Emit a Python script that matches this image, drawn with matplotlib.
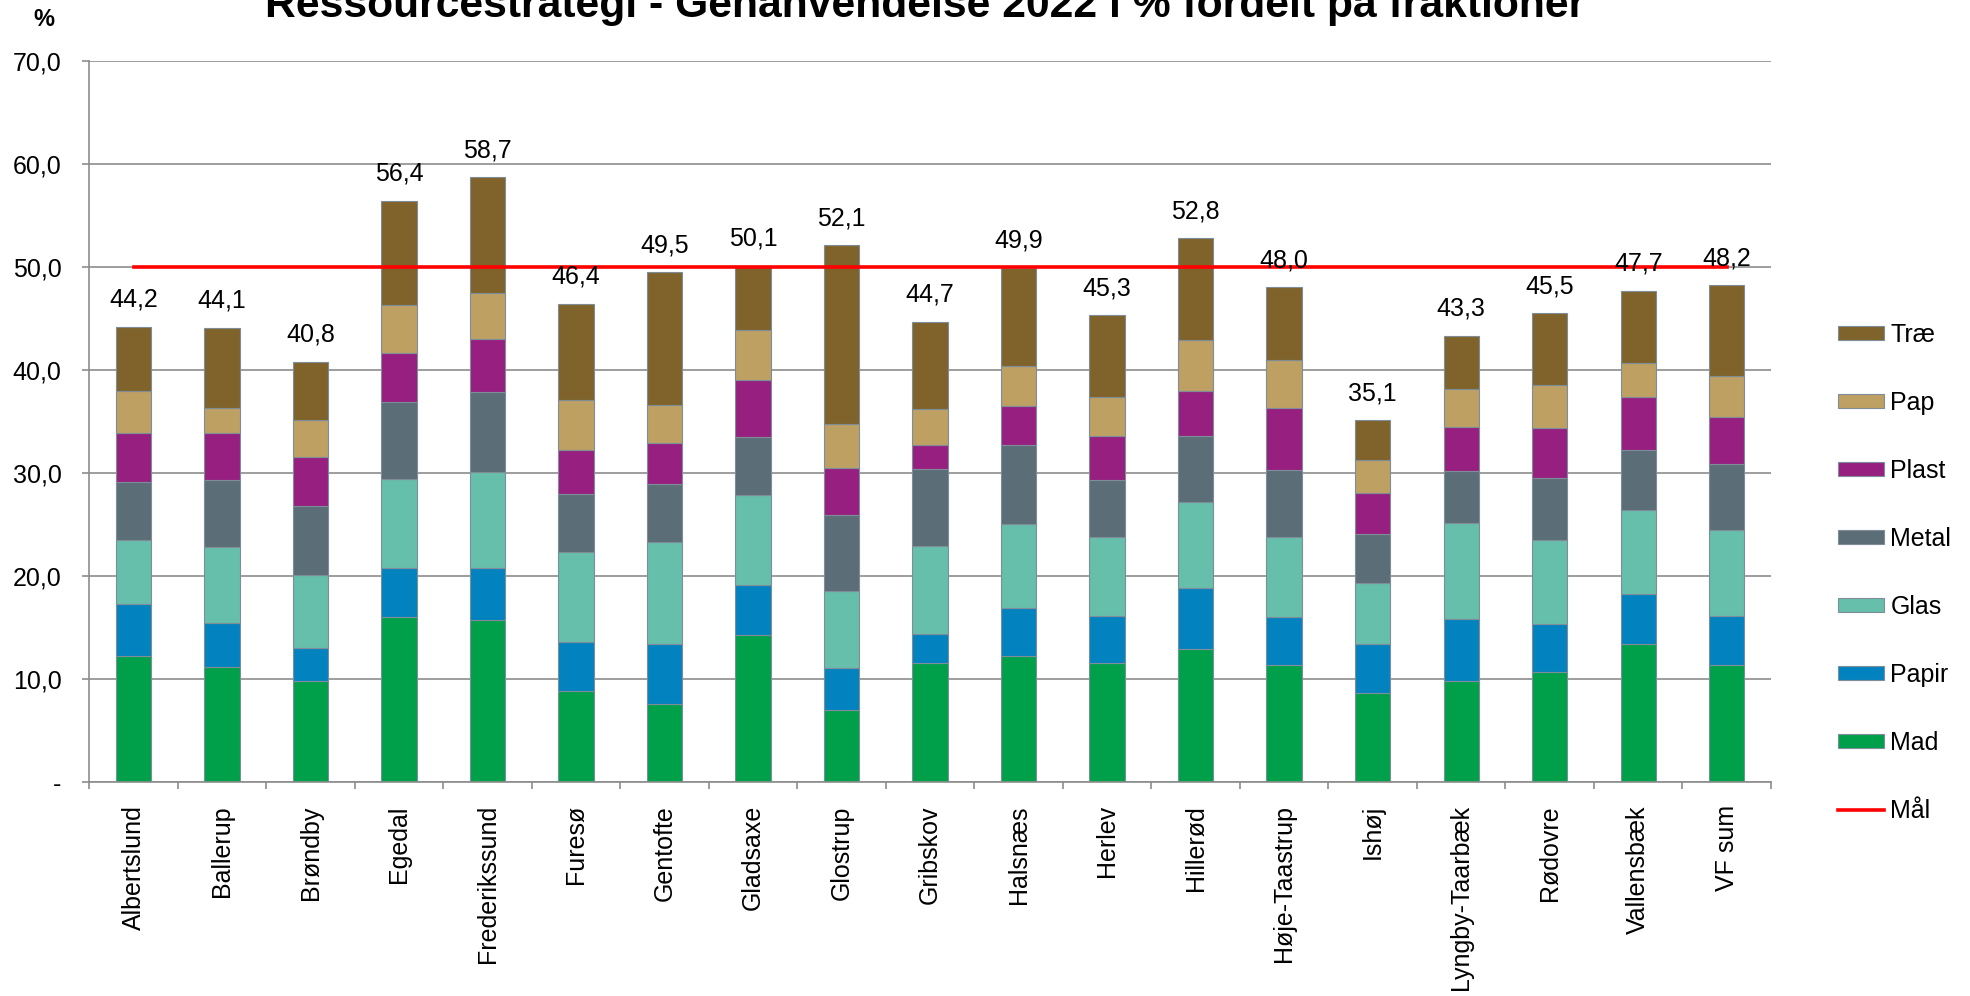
import matplotlib
matplotlib.use("Agg")
import matplotlib.pyplot as plt
from matplotlib.patches import Patch
from matplotlib.lines import Line2D
import numpy as np

plt.rcParams['font.family'] = ['Liberation Sans', 'DejaVu Sans']

categories = ["Albertslund", "Ballerup", "Brøndby", "Egedal", "Frederikssund", "Furesø",
              "Gentofte", "Gladsaxe", "Glostrup", "Gribskov", "Halsnæs", "Herlev",
              "Hillerød", "Høje-Taastrup", "Ishøj", "Lyngby-Taarbæk", "Rødovre",
              "Vallensbæk", "VF sum"]

mad   = [12.3, 11.2, 9.8, 16.0, 15.7, 8.9, 7.6, 14.3, 7.0, 11.6, 12.3, 11.6, 12.9, 11.4, 8.7, 9.8, 10.7, 13.4, 11.4]
papir = [5.0, 4.3, 3.2, 4.8, 5.1, 4.7, 5.8, 4.8, 4.1, 2.8, 4.6, 4.5, 5.9, 4.6, 4.7, 6.0, 4.7, 4.9, 4.7]
glas  = [6.2, 7.3, 7.1, 8.6, 9.3, 8.7, 9.9, 8.8, 7.5, 8.5, 8.2, 7.7, 8.4, 7.8, 5.9, 9.4, 8.1, 8.1, 8.4]
metal = [5.6, 6.5, 6.7, 7.5, 7.8, 5.7, 5.6, 5.6, 7.3, 7.5, 7.6, 5.5, 6.4, 6.5, 4.8, 5.0, 6.0, 5.8, 6.4]
plast = [4.8, 4.6, 4.8, 4.7, 5.1, 4.2, 4.0, 5.5, 4.6, 2.3, 3.8, 4.3, 4.4, 6.0, 4.0, 4.3, 4.9, 5.2, 4.5]
pap   = [4.1, 2.4, 3.5, 4.7, 4.5, 4.9, 3.7, 4.9, 4.3, 3.5, 3.9, 3.8, 4.9, 4.7, 3.2, 3.7, 4.1, 3.3, 4.0]
trae  = [6.2, 7.8, 5.7, 10.1, 11.2, 9.3, 12.9, 6.2, 17.3, 8.5, 9.5, 7.9, 9.9, 7.0, 3.8, 5.1, 7.0, 7.0, 8.8]
maal  = [50.0] * len(categories)

series = [("Mad", mad, "#00A04B"), ("Papir", papir, "#0382C0"), ("Glas", glas, "#66BFAA"),
          ("Metal", metal, "#5B6E78"), ("Plast", plast, "#961F80"), ("Pap", pap, "#BFA063"),
          ("Træ", trae, "#80632A")]

W, H = 1970, 996
fig = plt.figure(figsize=(W / 100, H / 100), dpi=100)
ax_left, ax_right, ax_bottom, ax_top = 89.3, 1771.0, 782.3, 60.7
ax = fig.add_axes([ax_left / W, 1 - ax_bottom / H, (ax_right - ax_left) / W, (ax_bottom - ax_top) / H])

x = np.arange(len(categories))
bottom = np.zeros(len(categories))
edge = "#7F8D98"
handles = {}
for name, vals, col in series:
    v = np.array(vals)
    ax.bar(x, v, width=0.40, bottom=bottom, color=col, edgecolor=edge, linewidth=0.8, zorder=2)
    handles[name] = Patch(facecolor=col, edgecolor=edge, linewidth=0.8)
    bottom = bottom + v

ax.plot(x, maal, color="#FF0000", linewidth=2.6, zorder=3)

for xi, tot in zip(x, bottom):
    ax.annotate(f"{tot:.1f}".replace(".", ","), (xi, tot), xytext=(0, 14.4),
                textcoords="offset points", ha="center", va="baseline", fontsize=18, zorder=4)

ax.set_xlim(-0.5, len(categories) - 0.5)
ax.set_ylim(0, 70)

grid_c = "#8C8C8C"
yt = np.arange(0, 71, 10)
ax.set_yticks(yt)
ax.set_yticklabels(["-"] + [f"{v:.1f}".replace(".", ",") for v in yt[1:]], fontsize=18)
ax.yaxis.grid(True, color=grid_c, linewidth=1.2, zorder=0)
ax.set_axisbelow(True)
ax.tick_params(axis="y", length=5, width=1.2, color=grid_c, pad=15)

ax.set_xticks(np.arange(-0.5, len(categories), 1.0))
ax.set_xticklabels([])
ax.set_xticks(x, minor=True)
ax.set_xticklabels(categories, minor=True, rotation=90, fontsize=18, ha="center", va="top")
ax.tick_params(axis="x", which="major", length=5, width=1.2, color=grid_c)
ax.tick_params(axis="x", which="minor", length=0, pad=16.5)

for s in ["top", "right"]:
    ax.spines[s].set_visible(False)
for s in ["left", "bottom"]:
    ax.spines[s].set_color(grid_c)
    ax.spines[s].set_linewidth(1.2)

# title fitted to measured width (top is clipped by the figure edge, as in the reference)
title = fig.text(925 / W, 1 - 17 / H, "Ressourcestrategi - Genanvendelse 2022 i % fordelt på fraktioner",
                 ha="center", va="baseline", fontsize=26, fontweight="bold")
r = fig.canvas.get_renderer()
w = title.get_window_extent(r).width
title.set_fontsize(26 * 1322 / w)

fig.text(44 / W, 1 - 19 / H, "%", ha="center", va="center", fontsize=17, fontweight="bold")

order = ["Træ", "Pap", "Plast", "Metal", "Glas", "Papir", "Mad"]
lh = [handles[n] for n in order] + [Line2D([0], [0], color="#FF0000", linewidth=2.6)]
ll = order + ["Mål"]
fig.legend(lh, ll, loc="center left", bbox_to_anchor=(1838 / W, 1 - 573 / H), frameon=False,
           fontsize=18, handlelength=1.84, handleheight=0.48, handletextpad=0.25,
           labelspacing=1.76, borderpad=0, borderaxespad=0)

fig.savefig("out.png", dpi=100)
